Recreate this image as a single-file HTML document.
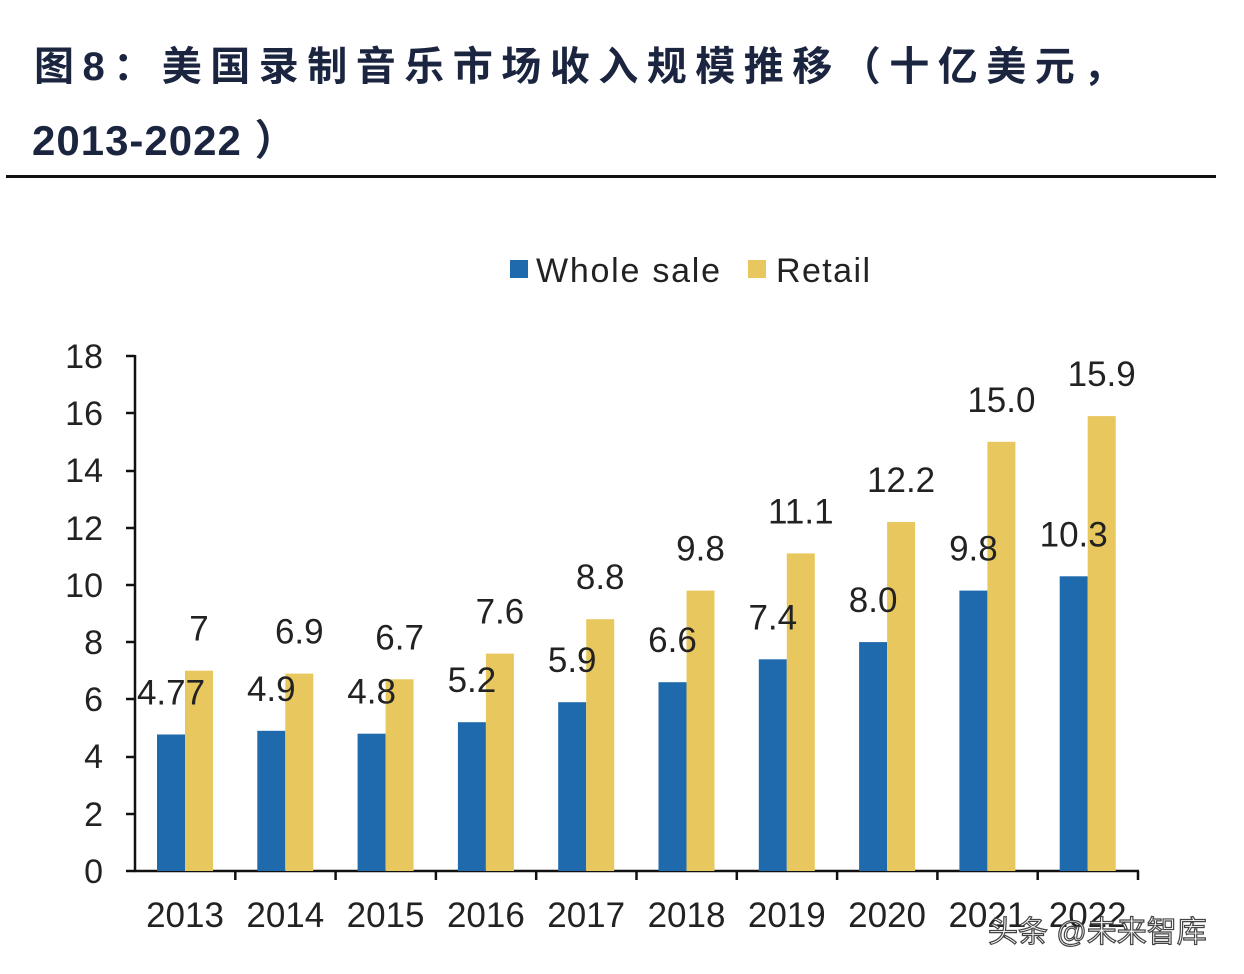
<!DOCTYPE html>
<html><head><meta charset="utf-8"><style>
html,body{margin:0;padding:0;background:#fff;}
svg{display:block;}
</style></head><body>
<svg width="1244" height="974" xmlns="http://www.w3.org/2000/svg" font-family="Liberation Sans, Arial, sans-serif">
<rect width="1244" height="974" fill="#fff"/>
<text x="34" y="80" font-family="Liberation Sans, 'Noto Sans CJK SC', sans-serif" font-weight="bold" font-size="40" fill="#1b2540" letter-spacing="8.5">图8：美国录制音乐市场收入规模推移（十亿美元，</text>
<text x="32" y="155" font-family="Liberation Sans, 'Noto Sans CJK SC', sans-serif" font-weight="bold" font-size="42" fill="#1b2540" letter-spacing="1">2013-2022 ）</text>
<rect x="6" y="175" width="1210" height="3" fill="#111"/>
<rect x="510" y="260" width="18" height="18" fill="#1f6aad"/>
<text x="536" y="282" font-size="34" fill="#222" textLength="184">Whole sale</text>
<rect x="748" y="260" width="18" height="18" fill="#e8c85e"/>
<text x="776" y="282" font-size="34" fill="#222" textLength="94">Retail</text>
<g font-size="34" fill="#222" text-anchor="end">
<text x="103" y="883">0</text><text x="103" y="826">2</text><text x="103" y="768">4</text><text x="103" y="711">6</text><text x="103" y="654">8</text><text x="103" y="597">10</text><text x="103" y="540">12</text><text x="103" y="482">14</text><text x="103" y="425">16</text><text x="103" y="368">18</text>
</g>
<g stroke="#111" stroke-width="2.5">
<line x1="135" y1="355" x2="135" y2="872"/>
<line x1="134" y1="871" x2="1139" y2="871"/>
<line x1="126" y1="871" x2="135" y2="871"/><line x1="126" y1="814" x2="135" y2="814"/><line x1="126" y1="757" x2="135" y2="757"/><line x1="126" y1="699" x2="135" y2="699"/><line x1="126" y1="642" x2="135" y2="642"/><line x1="126" y1="585" x2="135" y2="585"/><line x1="126" y1="528" x2="135" y2="528"/><line x1="126" y1="471" x2="135" y2="471"/><line x1="126" y1="413" x2="135" y2="413"/><line x1="126" y1="356" x2="135" y2="356"/>
<line x1="235.3" y1="871" x2="235.3" y2="880"/><line x1="335.6" y1="871" x2="335.6" y2="880"/><line x1="435.9" y1="871" x2="435.9" y2="880"/><line x1="536.2" y1="871" x2="536.2" y2="880"/><line x1="636.5" y1="871" x2="636.5" y2="880"/><line x1="736.8" y1="871" x2="736.8" y2="880"/><line x1="837.1" y1="871" x2="837.1" y2="880"/><line x1="937.4" y1="871" x2="937.4" y2="880"/><line x1="1037.7" y1="871" x2="1037.7" y2="880"/><line x1="1138" y1="871" x2="1138" y2="880"/>
</g>
<g fill="#1f6aad">
<rect x="157" y="734.5" width="28" height="136.5"/>
<rect x="257.3" y="730.8" width="28" height="140.2"/>
<rect x="357.6" y="733.7" width="28" height="137.3"/>
<rect x="457.9" y="722.2" width="28" height="148.8"/>
<rect x="558.2" y="702.2" width="28" height="168.8"/>
<rect x="658.5" y="682.2" width="28" height="188.8"/>
<rect x="758.8" y="659.3" width="28" height="211.7"/>
<rect x="859.1" y="642.1" width="28" height="228.9"/>
<rect x="959.4" y="590.6" width="28" height="280.4"/>
<rect x="1059.7" y="576.3" width="28" height="294.7"/>
</g>
<g fill="#e8c85e">
<rect x="185" y="670.7" width="28" height="200.3"/>
<rect x="285.3" y="673.6" width="28" height="197.4"/>
<rect x="385.6" y="679.3" width="28" height="191.7"/>
<rect x="485.9" y="653.6" width="28" height="217.4"/>
<rect x="586.2" y="619.2" width="28" height="251.8"/>
<rect x="686.5" y="590.6" width="28" height="280.4"/>
<rect x="786.8" y="553.4" width="28" height="317.6"/>
<rect x="887.1" y="522" width="28" height="349"/>
<rect x="987.4" y="441.8" width="28" height="429.2"/>
<rect x="1087.7" y="416.1" width="28" height="454.9"/>
</g>
<g font-size="35" fill="#222" text-anchor="middle">
<text x="171" y="704.5">4.77</text><text x="271.3" y="700.8">4.9</text><text x="371.6" y="703.7">4.8</text><text x="471.9" y="692.2">5.2</text><text x="572.2" y="672.2">5.9</text><text x="672.5" y="652.2">6.6</text><text x="772.8" y="629.3">7.4</text><text x="873.1" y="612.1">8.0</text><text x="973.4" y="560.6">9.8</text><text x="1073.7" y="546.3">10.3</text>
<text x="199" y="640.7">7</text><text x="299.3" y="643.6">6.9</text><text x="399.6" y="649.3">6.7</text><text x="499.9" y="623.6">7.6</text><text x="600.2" y="589.2">8.8</text><text x="700.5" y="560.6">9.8</text><text x="800.8" y="523.4">11.1</text><text x="901.1" y="492">12.2</text><text x="1001.4" y="411.8">15.0</text><text x="1101.7" y="386.1">15.9</text>
<text x="185" y="927">2013</text><text x="285.3" y="927">2014</text><text x="385.6" y="927">2015</text><text x="485.9" y="927">2016</text><text x="586.2" y="927">2017</text><text x="686.5" y="927">2018</text><text x="786.8" y="927">2019</text><text x="887.1" y="927">2020</text><text x="987.4" y="927">2021</text><text x="1087.7" y="927">2022</text>
</g>
<text x="988" y="942" font-family="Liberation Sans, 'Noto Sans CJK SC', sans-serif" font-size="30" fill="#fff" stroke="#444" stroke-width="1.2">头条 @未来智库</text>
</svg>
</body></html>
